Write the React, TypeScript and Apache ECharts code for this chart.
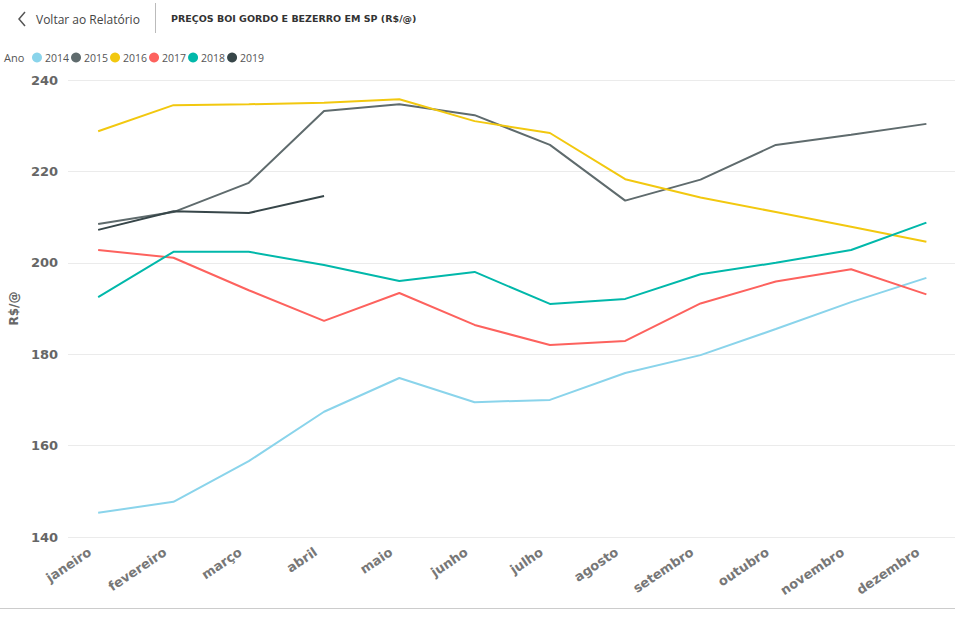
import React, { useEffect, useRef } from "react";
import * as echarts from "echarts";

const months = ["janeiro", "fevereiro", "março", "abril", "maio", "junho", "julho", "agosto", "setembro", "outubro", "novembro", "dezembro"];
const years = ["2014", "2015", "2016", "2017", "2018", "2019"];
const colors = ["#8AD4EB", "#5F6B6D", "#F2C80F", "#FD625E", "#01B8AA", "#374649"];

const v2014 = [145.3, 147.7, 156.6, 167.4, 174.8, 169.5, 170.0, 175.9, 179.8, 185.5, 191.4, 196.7];
const v2015 = [208.5, 211.1, 217.5, 233.2, 234.7, 232.3, 225.8, 213.6, 218.2, 225.8, 228.0, 230.4];
const v2016 = [228.8, 234.5, 234.7, 235.0, 235.8, 231.0, 228.4, 218.3, 214.3, 211.1, 207.9, 204.6];
const v2017 = [202.8, 201.1, 194.0, 187.3, 193.4, 186.4, 182.0, 182.9, 191.1, 195.9, 198.6, 193.1];
const v2018 = [192.5, 202.4, 202.4, 199.5, 196.0, 198.0, 191.0, 192.1, 197.5, 200.0, 202.8, 208.8];
const v2019 = [207.2, 211.3, 210.9, 214.6];
const seriesValues = [v2014, v2015, v2016, v2017, v2018, v2019];

const yTicks = [140, 160, 180, 200, 220, 240];

export default function App() {
  const ref = useRef<HTMLDivElement>(null);
  useEffect(() => {
    if (!ref.current) return;
    const chart = echarts.init(ref.current, null, { renderer: "svg" });
    const idx = months.map((_, i) => i);
    chart.setOption({
      animation: false,
      backgroundColor: "#fff",
      textStyle: { fontFamily: "DejaVu Sans" },
      graphic: [
        {
          type: "polyline",
          shape: { points: [[25, 12], [19, 19], [25, 26]] },
          style: { stroke: "#555", lineWidth: 1.5, fill: null },
        },
        {
          type: "text",
          x: 36, y: 19,
          style: { text: "Voltar ao Relatório", fill: "#444", font: "12px 'Open Sans'", textVerticalAlign: "middle" },
        },
        {
          type: "line",
          shape: { x1: 155.5, y1: 3, x2: 155.5, y2: 33 },
          style: { stroke: "#bbb", lineWidth: 1 },
        },
        {
          type: "text",
          x: 171, y: 18,
          style: { text: "PREÇOS BOI GORDO E BEZERRO EM SP (R$/@)", fill: "#333", font: "bold 9.5px 'DejaVu Sans'", textVerticalAlign: "middle" },
        },
        {
          type: "text",
          x: 4, y: 57,
          style: { text: "Ano", fill: "#555", font: "11px 'Open Sans'", textVerticalAlign: "middle" },
        },
        {
          type: "line",
          shape: { x1: 0, y1: 608.5, x2: 955, y2: 608.5 },
          style: { stroke: "#ccc", lineWidth: 1 },
        },
      ],
      legend: {
        left: 32,
        top: 52,
        padding: 0,
        icon: "circle",
        itemWidth: 10,
        itemHeight: 10,
        itemGap: 2,
        textStyle: { color: "#555", fontSize: 10.5, fontFamily: "Open Sans", padding: [0, 0, 0, -2] },
        data: years,
      },
      grid: { left: 63, right: 0, top: 80, bottom: 92 },
      xAxis: {
        type: "value",
        min: -0.4,
        max: 11.38,
        axisLine: { show: false },
        axisTick: { show: false },
        splitLine: { show: false },
        axisLabel: {
          customValues: idx,
          rotate: 34,
          color: "#777",
          fontWeight: "bold",
          fontSize: 13,
          fontFamily: "DejaVu Sans",
          margin: 8,
          padding: [0, 10, 0, 0],
          formatter: (v: number) => months[Math.round(v)] ?? "",
        },
      },
      yAxis: {
        type: "value",
        min: yTicks[0],
        max: yTicks[yTicks.length - 1],
        interval: 20,
        name: "R$/@",
        nameLocation: "middle",
        nameGap: 37,
        nameTextStyle: { color: "#666", fontWeight: "bold", fontSize: 12, fontFamily: "DejaVu Sans" },
        axisLine: { show: false },
        axisTick: { show: false },
        splitLine: { lineStyle: { color: "#ebebeb", width: 1 } },
        axisLabel: { color: "#666", fontWeight: "bold", fontSize: 13, fontFamily: "DejaVu Sans", margin: 10 },
      },
      series: years.map((y, i) => ({
        name: y,
        type: "line",
        data: seriesValues[i].map((v, j) => [j, v]),
        showSymbol: false,
        symbol: "circle",
        color: colors[i],
        lineStyle: { width: 2, color: colors[i] },
      })),
    });
    return () => chart.dispose();
  }, []);
  return <div ref={ref} style={{ width: 955, height: 629, position: "absolute", left: 0, top: 0 }} />;
}
